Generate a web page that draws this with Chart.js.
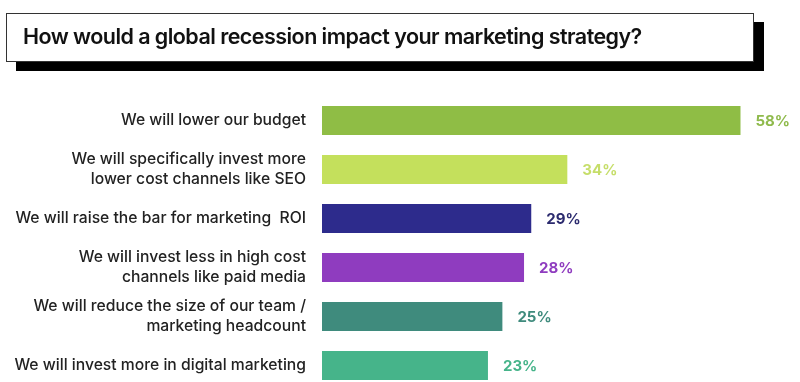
<!DOCTYPE html>
<html>
<head>
<meta charset="utf-8">
<script src="https://cdn.jsdelivr.net/npm/chart.js@4/dist/chart.umd.min.js"></script>
<style>
  html, body { margin: 0; padding: 0; background: #fff; overflow: hidden; width: 800px; height: 382px; }
  #wrap { position: relative; width: 800px; height: 400px; }
  #title {
    position: absolute; left: 6px; top: 13px; width: 746px; height: 47px;
    border: 1.5px solid #333; background: #fff; box-sizing: content-box;
    box-shadow: 10px 9px 0 0 #000;
    font-family: Inter, "Noto Sans", sans-serif; font-weight: 600; font-size: 21.5px;
    letter-spacing: -0.55px; color: #111; line-height: 47px;
  }
  #title span { position: absolute; left: 16px; top: -1px; }
  canvas { position: absolute; left: 0; top: 0; }
</style>
</head>
<body>
<div id="wrap">
  <canvas id="c" width="800" height="400"></canvas>
  <div id="title"><span>How would a global recession impact your marketing strategy?</span></div>
</div>
<script>
const categories = [
  ["We will lower our budget"],
  ["We will specifically invest more", "lower cost channels like SEO"],
  ["We will raise the bar for marketing  ROI"],
  ["We will invest less in high cost", "channels like paid media"],
  ["We will reduce the size of our team /", "marketing headcount"],
  ["We will invest more in digital marketing"]
];
const values = [58, 34, 29, 28, 25, 23];
const valueLabels = ["58%", "34%", "29%", "28%", "25%", "23%"];
const barColors = ["#8fbd45", "#c4e05c", "#2d2b8c", "#8f3cbf", "#3f8b7d", "#46b48a"];
const labelColors = ["#8fba4c", "#c6de6a", "#2b2a6e", "#8f3cbf", "#3f8b7d", "#46b48a"];

const valuePlugin = {
  id: 'valueLabels',
  afterDatasetsDraw(chart) {
    const ctx = chart.ctx;
    const meta = chart.getDatasetMeta(0);
    ctx.save();
    ctx.font = "700 15px Inter, 'Noto Sans', sans-serif";
    ctx.textAlign = 'left';
    ctx.textBaseline = 'middle';
    meta.data.forEach((bar, i) => {
      ctx.fillStyle = labelColors[i];
      ctx.fillText(valueLabels[i], bar.x + 15, bar.y + 1);
    });
    ctx.restore();
  }
};

new Chart(document.getElementById('c'), {
  type: 'bar',
  data: {
    labels: categories,
    datasets: [{
      data: values,
      backgroundColor: barColors,
      borderWidth: 0,
      barPercentage: 1,
      categoryPercentage: 29 / 49
    }]
  },
  options: {
    indexAxis: 'y',
    responsive: false,
    animation: false,
    devicePixelRatio: 1,
    layout: { padding: { top: 96, bottom: 10, left: 0, right: 9 } },
    plugins: { legend: { display: false }, tooltip: { enabled: false }, title: { display: false } },
    scales: {
      x: {
        min: 0, max: 65,
        display: false,
        grid: { display: false }
      },
      y: {
        grid: { display: false, drawTicks: false },
        border: { display: false },
        afterFit(scale) {
          scale.width = 322;
          scale.paddingTop = 0;
          scale.paddingBottom = 0;
        },
        ticks: {
          padding: 16,
          color: '#222',
          font: { family: "Inter, 'Noto Sans', sans-serif", size: 15.7, weight: 500, lineHeight: 1.25 }
        }
      }
    }
  },
  plugins: [valuePlugin]
});
</script>
</body>
</html>
